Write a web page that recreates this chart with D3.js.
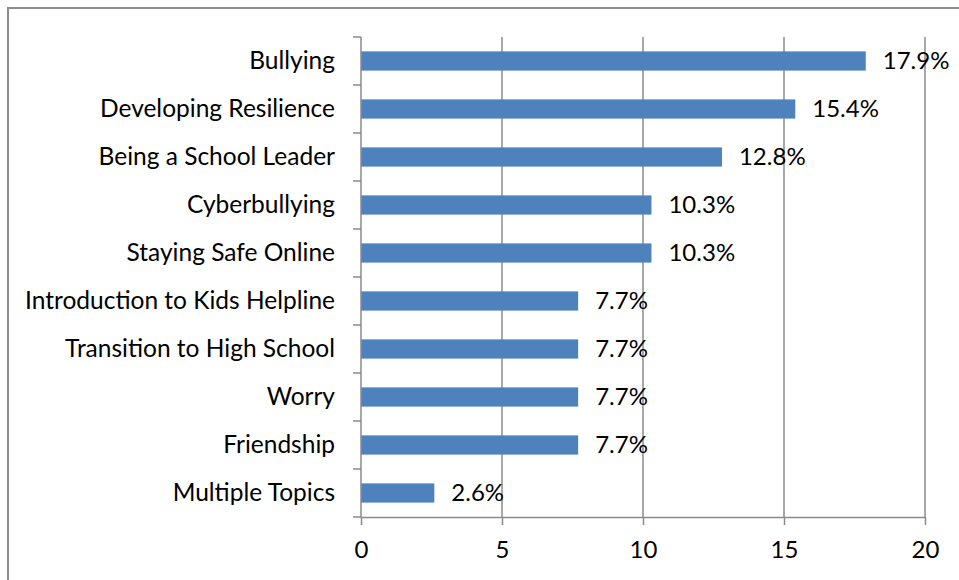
<!DOCTYPE html>
<html>
<head>
<meta charset="utf-8">
<script src="https://cdn.jsdelivr.net/npm/d3@7"></script>
<style>
  html, body { margin: 0; padding: 0; background: #fff; }
  svg { display: block; }
  text { font-family: Lato, "Open Sans", sans-serif; fill: #000; }
</style>
</head>
<body>
<svg id="chart" width="959" height="580"></svg>
<script>
// Topic categories, top to bottom
const categories = [
  "Bullying",
  "Developing Resilience",
  "Being a School Leader",
  "Cyberbullying",
  "Staying Safe Online",
  "Introduction to Kids Helpline",
  "Transition to High School",
  "Worry",
  "Friendship",
  "Multiple Topics"
];
// Percentage of sessions per topic
const values = [17.9, 15.4, 12.8, 10.3, 10.3, 7.7, 7.7, 7.7, 7.7, 2.6];
// Value axis ticks
const xTicks = [0, 5, 10, 15, 20];

const svg = d3.select("#chart");
const plot = { left: 361, right: 925, top: 37, bottom: 517 };
const axisColor = "#8a8a8a";
const fontFamily = "Lato, 'Open Sans', sans-serif";
const fontSize = 24;

// Outer frame (runs off the right and bottom edges)
svg.append("rect")
  .attr("x", 8).attr("y", 8)
  .attr("width", 1000).attr("height", 1000)
  .attr("fill", "none")
  .attr("stroke", "#8c8c8c")
  .attr("stroke-width", 2);

const x = d3.scaleLinear().domain([0, 20]).range([plot.left, plot.right]);
const y = d3.scaleBand().domain(categories).range([plot.top, plot.bottom]).paddingInner(0.6).paddingOuter(0.3);
const band = d3.scaleBand().domain(categories).range([plot.top, plot.bottom]);

// Vertical gridlines
svg.append("g")
  .selectAll("line")
  .data(xTicks.filter(t => t > 0))
  .join("line")
  .attr("x1", d => x(d)).attr("x2", d => x(d))
  .attr("y1", plot.top).attr("y2", plot.bottom)
  .attr("stroke", axisColor)
  .attr("stroke-width", 1.5);

// Bars
svg.append("g")
  .selectAll("rect")
  .data(categories)
  .join("rect")
  .attr("x", x(0))
  .attr("y", d => y(d))
  .attr("width", (d, i) => x(values[i]) - x(0))
  .attr("height", y.bandwidth())
  .attr("fill", "#4f81bd");

// Value labels
svg.append("g")
  .selectAll("text")
  .data(categories)
  .join("text")
  .attr("x", (d, i) => x(values[i]) + 17)
  .attr("y", d => y(d) + y.bandwidth() / 2)
  .attr("dy", "0.35em")
  .attr("font-size", fontSize)
  .text((d, i) => values[i].toFixed(1) + "%");

// Category axis
const yAxis = d3.axisLeft(band).tickSize(0).tickPadding(26);
const gy = svg.append("g").attr("transform", `translate(${plot.left},0)`).call(yAxis);
gy.select(".domain").remove();
gy.selectAll("text").attr("font-size", 24.5).attr("font-family", fontFamily);

// Left axis line and band-boundary ticks
const boundaries = categories.map(c => band(c)).concat([plot.bottom]);
svg.append("line")
  .attr("x1", plot.left).attr("x2", plot.left)
  .attr("y1", plot.top).attr("y2", plot.bottom)
  .attr("stroke", axisColor).attr("stroke-width", 1.5);
svg.append("g")
  .selectAll("line")
  .data(boundaries)
  .join("line")
  .attr("x1", plot.left - 8).attr("x2", plot.left)
  .attr("y1", d => d).attr("y2", d => d)
  .attr("stroke", axisColor).attr("stroke-width", 1.5);

// Value axis
const xAxis = d3.axisBottom(x).tickValues(xTicks).tickSize(8).tickPadding(16).tickSizeOuter(0);
const gx = svg.append("g").attr("transform", `translate(0,${plot.bottom})`).call(xAxis);
gx.select(".domain").attr("stroke", axisColor).attr("stroke-width", 1.5);
gx.selectAll(".tick line").attr("stroke", axisColor).attr("stroke-width", 1.5);
gx.selectAll("text").attr("font-size", fontSize).attr("font-family", fontFamily);
</script>
</body>
</html>
